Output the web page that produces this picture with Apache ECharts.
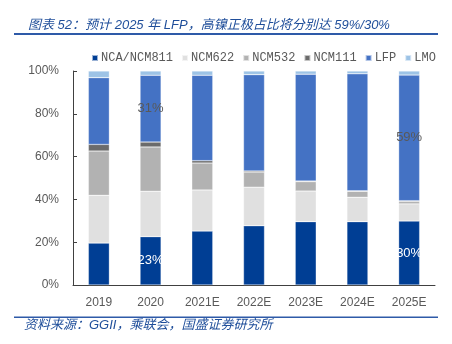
<!DOCTYPE html>
<html><head><meta charset="utf-8">
<script src="https://cdn.jsdelivr.net/npm/echarts@6/dist/echarts.min.js"></script>
<style>html,body{margin:0;padding:0;background:#fff}#c{width:452px;height:344px}</style>
</head><body><div id="c"></div>
<script>
const categories = ['2019','2020','2021E','2022E','2023E','2024E','2025E'];
const seriesNames = ['NCA/NCM811','NCM622','NCM532','NCM111','LFP','LMO'];
const nca    = [19.6, 22.6, 25.2, 27.7, 29.6, 29.6, 29.9];
const ncm622 = [22.3, 21.2, 19.2, 18.0, 14.3, 11.4, 8.0];
const ncm532 = [20.7, 20.7, 12.6, 7.1, 4.4, 2.8, 1.2];
const ncm111 = [3.1, 2.3, 1.1, 0.5, 0.3, 0.2, 0.3];
const lfp    = [31.2, 31.2, 39.9, 45.0, 49.9, 54.7, 58.7];
const lmo    = [3.1, 2.0, 2.0, 1.7, 1.5, 1.3, 1.9];
const yTicks = [0, 20, 40, 60, 80, 100];
const labelled = {0: [1, 6], 4: [1, 6]};
const colors = ['#003E94','#E0E0E0','#B2B2B2','#6B6B6B','#4472C4','#9DC3E6'];
const labelColors = {0: '#ffffff', 4: '#595959'};
const all = [nca, ncm622, ncm532, ncm111, lfp, lmo];

const chart = echarts.init(document.getElementById('c'));
const series = all.map((arr, si) => ({
  name: seriesNames[si], type: 'bar', stack: 'a', barWidth: 21,
  itemStyle: {color: colors[si], borderColor: 'rgba(255,255,255,0.6)', borderWidth: 0.5},
  data: arr.map((v, i) => {
    if (labelled[si] && labelled[si].includes(i)) {
      return {value: v, label: {show: true, position: 'inside', formatter: Math.round(v) + '%',
        color: labelColors[si], fontSize: 13, fontFamily: 'Liberation Sans'}};
    }
    return v;
  })
}));
chart.setOption({
  animation: false,
  backgroundColor: '#fff',
  title: {text: '图表 52：预计 2025 年 LFP，高镍正极占比将分别达 59%/30%', left: 23, top: 14,
    textStyle: {fontSize: 13, fontStyle: 'italic', fontWeight: 'normal', color: '#1F4E9A', fontFamily: 'Liberation Sans, Noto Sans CJK SC'}},
  legend: {data: seriesNames, left: 86, top: 47, itemWidth: 6, itemHeight: 6, itemGap: 8, icon: 'rect',
    textStyle: {fontSize: 12, color: '#595959', fontFamily: 'Liberation Mono', padding: [0, 0, 0, -2]}},
  grid: {left: 73, right: 17, top: 71, bottom: 59, containLabel: false},
  xAxis: {type: 'category', data: categories,
    axisLine: {lineStyle: {color: '#404040', width: 1}},
    axisTick: {inside: true, length: 4, lineStyle: {color: '#404040'}},
    axisLabel: {color: '#595959', fontSize: 12, margin: 12, fontFamily: 'Liberation Sans'}},
  yAxis: {type: 'value', min: 0, max: 100, interval: 20,
    axisLine: {show: true, lineStyle: {color: '#404040', width: 1}},
    axisTick: {show: true, inside: true, length: 4, lineStyle: {color: '#404040'}},
    splitLine: {show: false},
    axisLabel: {color: '#595959', fontSize: 12, margin: 14, fontFamily: 'Liberation Sans',
      formatter: v => yTicks.includes(v) ? v + '%' : ''}},
  graphic: [
    {type: 'rect', shape: {x: 14, y: 33, width: 424, height: 2}, style: {fill: '#2E5AA8'}},
    {type: 'rect', shape: {x: 14, y: 316.5, width: 424, height: 1.5}, style: {fill: '#2E5AA8'}},
    {type: 'text', left: 24, top: 319, style: {text: '资料来源：GGII，乘联会，国盛证券研究所', fontSize: 13,
      fontStyle: 'italic', fill: '#1F4E9A', fontFamily: 'Liberation Sans, Noto Sans CJK SC'}}
  ],
  series: series
});
</script></body></html>
